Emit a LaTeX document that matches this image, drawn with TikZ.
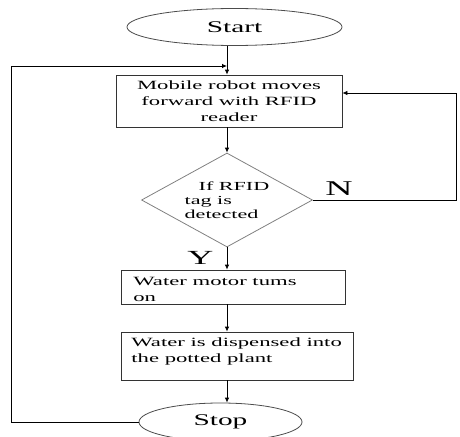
\documentclass[tikz,border=0pt]{standalone}
\usepackage{fontspec}
\setmainfont[FakeStretch=1.8]{Liberation Serif}
\usetikzlibrary{shapes.geometric,arrows.meta}
\begin{document}
\begin{tikzpicture}[x=1pt,y=-1pt,
  line width=0.8pt,
  arr/.style={-{Latex[length=5pt,width=4.5pt]}, draw=black},
  boxnode/.style={draw=black!80, rectangle, inner sep=0pt},
  term/.style={draw=black!70, ellipse, inner sep=0pt, font=\fontsize{16.3}{18}\selectfont},
  txt/.style={inner sep=0pt, font=\fontsize{12.6}{16}\selectfont, align=left, anchor=north west},
  yn/.style={inner sep=0pt, anchor=base west},
]
\path[use as bounding box, clip] (0,0) rectangle (460,436);
\coordinate (col) at (227,0);
\node[term, minimum width=215pt, minimum height=37pt] (start) at (234.5,27) {Start};
\node[boxnode, minimum width=226pt, minimum height=52pt, align=center,
      font=\fontsize{12.6}{16.2}\selectfont] (move) at (229,101) {Mobile robot moves\\forward with RFID\\reader};
\node[diamond, aspect=1.82, draw=black!50, minimum width=171pt, minimum height=94pt, inner sep=0pt,
      align=left, font=\fontsize{12.3}{13.9}\selectfont] (dec) at (227,200) {\hspace*{14pt}If RFID\\tag is\\detected};
\node[boxnode, minimum width=224pt, minimum height=34pt] (motor) at (233,287) {};
\node[txt] (motort) at (133,277) {Water motor tums\\on};
\node[boxnode, minimum width=232pt, minimum height=48pt] (disp) at (237,356) {};
\node[txt] (dispt) at (131,337.1) {Water is dispensed into\\the potted plant};
\node[term, minimum width=163pt, minimum height=38pt] (stop) at (220.5,422) {Stop};
\node[yn, font=\fontsize{21}{21}\selectfont] (nlab) at (325,195) {N};
\node[yn, font=\fontsize{20}{20}\selectfont] (ylab) at (187,264) {Y};
% connectors
\draw[arr] (col |- start.south) -- (col |- move.north);
\draw[arr] (col |- move.south) -- (dec.north);
\draw[arr] (dec.south) -- (col |- motor.north);
\draw[arr] (col |- motor.south) -- (col |- disp.north);
\draw[arr] (col |- disp.south) -- (col |- stop.north);
\coordinate (l1) at (11,422);
\coordinate (l2) at (11,66);
\draw[arr] (stop.west) -- (l1) -- (l2) -- (col |- l2);
\coordinate (r1) at (456,200);
\coordinate (r2) at (456,93);
\draw[arr] (dec.east) -- (r1) -- (r2) -- (move.east |- r2);
\end{tikzpicture}
\end{document}
